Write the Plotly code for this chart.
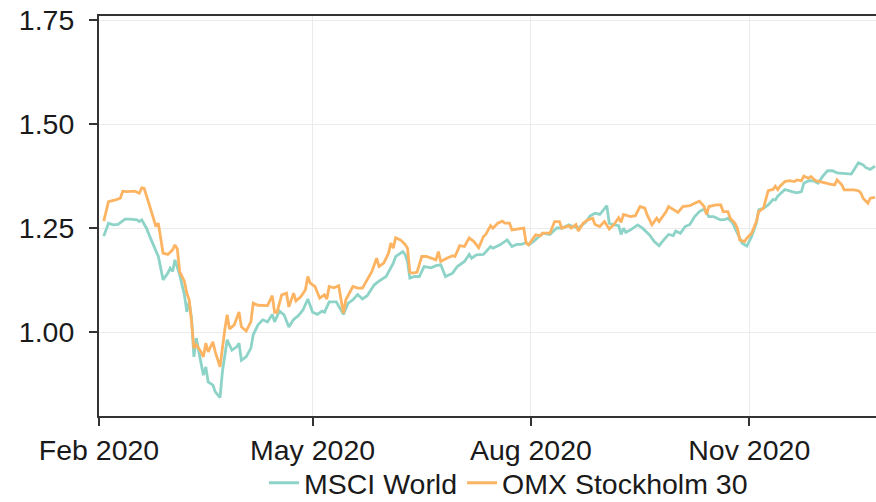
import plotly.graph_objects as go

# ---------------- data ----------------
msci_dates = [
    "2020-02-03", "2020-02-05", "2020-02-07", "2020-02-09", "2020-02-12", "2020-02-14", "2020-02-17", "2020-02-18",
    "2020-02-19", "2020-02-21", "2020-02-23", "2020-02-25", "2020-02-26", "2020-02-28", "2020-03-01", "2020-03-02",
    "2020-03-03", "2020-03-04", "2020-03-06", "2020-03-08", "2020-03-09", "2020-03-10", "2020-03-11", "2020-03-12",
    "2020-03-13", "2020-03-15", "2020-03-16", "2020-03-17", "2020-03-18", "2020-03-20", "2020-03-21", "2020-03-23",
    "2020-03-24", "2020-03-26", "2020-03-28", "2020-03-30", "2020-03-31", "2020-04-01", "2020-04-03", "2020-04-05",
    "2020-04-06", "2020-04-08", "2020-04-10", "2020-04-12", "2020-04-14", "2020-04-15", "2020-04-17", "2020-04-19",
    "2020-04-21", "2020-04-23", "2020-04-25", "2020-04-27", "2020-04-29", "2020-05-01", "2020-05-03", "2020-05-05",
    "2020-05-06", "2020-05-08", "2020-05-11", "2020-05-14", "2020-05-16", "2020-05-18", "2020-05-20", "2020-05-22",
    "2020-05-24", "2020-05-27", "2020-05-29", "2020-06-01", "2020-06-03", "2020-06-04", "2020-06-05", "2020-06-08",
    "2020-06-09", "2020-06-10", "2020-06-11", "2020-06-13", "2020-06-15", "2020-06-17", "2020-06-20", "2020-06-22",
    "2020-06-24", "2020-06-26", "2020-06-29", "2020-07-01", "2020-07-04", "2020-07-06", "2020-07-07", "2020-07-09",
    "2020-07-12", "2020-07-15", "2020-07-16", "2020-07-19", "2020-07-22", "2020-07-24", "2020-07-26", "2020-07-28",
    "2020-07-30", "2020-07-31", "2020-08-02", "2020-08-04", "2020-08-06", "2020-08-09", "2020-08-12", "2020-08-14",
    "2020-08-17", "2020-08-18", "2020-08-21", "2020-08-24", "2020-08-26", "2020-08-28", "2020-08-30", "2020-08-31",
    "2020-09-02", "2020-09-03", "2020-09-05", "2020-09-07", "2020-09-08", "2020-09-09", "2020-09-10", "2020-09-12",
    "2020-09-15", "2020-09-17", "2020-09-20", "2020-09-22", "2020-09-24", "2020-09-26", "2020-09-28", "2020-09-30",
    "2020-10-01", "2020-10-03", "2020-10-05", "2020-10-07", "2020-10-09", "2020-10-11", "2020-10-13", "2020-10-15",
    "2020-10-17", "2020-10-19", "2020-10-20", "2020-10-22", "2020-10-23", "2020-10-25", "2020-10-26", "2020-10-28",
    "2020-10-29", "2020-10-31", "2020-11-01", "2020-11-02", "2020-11-04", "2020-11-05", "2020-11-07", "2020-11-09",
    "2020-11-11", "2020-11-12", "2020-11-13", "2020-11-14", "2020-11-16", "2020-11-19", "2020-11-21", "2020-11-23",
    "2020-11-24", "2020-11-26", "2020-11-28", "2020-11-30", "2020-12-02", "2020-12-04", "2020-12-06", "2020-12-08",
    "2020-12-10", "2020-12-12", "2020-12-14", "2020-12-17", "2020-12-19", "2020-12-20", "2020-12-22", "2020-12-24",
]
msci_values = [
    1.231, 1.262, 1.258, 1.259, 1.272, 1.272, 1.270, 1.266,
    1.270, 1.250, 1.222, 1.198, 1.182, 1.126, 1.142, 1.154,
    1.146, 1.174, 1.138, 1.090, 1.049, 1.073, 1.034, 0.941,
    0.986, 0.926, 0.897, 0.917, 0.881, 0.873, 0.857, 0.843,
    0.905, 0.982, 0.957, 0.965, 0.974, 0.933, 0.941, 0.962,
    0.994, 1.018, 1.030, 1.025, 1.043, 1.025, 1.051, 1.042,
    1.013, 1.031, 1.040, 1.054, 1.080, 1.048, 1.043, 1.051,
    1.048, 1.073, 1.073, 1.043, 1.070, 1.078, 1.091, 1.080,
    1.088, 1.114, 1.123, 1.134, 1.154, 1.166, 1.182, 1.194,
    1.187, 1.170, 1.130, 1.134, 1.134, 1.158, 1.155, 1.160,
    1.162, 1.134, 1.142, 1.158, 1.170, 1.187, 1.178, 1.186,
    1.187, 1.206, 1.202, 1.210, 1.222, 1.206, 1.211, 1.211,
    1.216, 1.210, 1.218, 1.227, 1.238, 1.235, 1.251, 1.250,
    1.258, 1.256, 1.250, 1.264, 1.280, 1.286, 1.283, 1.290,
    1.304, 1.262, 1.258, 1.256, 1.235, 1.250, 1.240, 1.246,
    1.258, 1.250, 1.234, 1.218, 1.208, 1.222, 1.235, 1.232,
    1.243, 1.238, 1.254, 1.259, 1.278, 1.290, 1.296, 1.278,
    1.278, 1.272, 1.270, 1.271, 1.274, 1.263, 1.250, 1.226,
    1.214, 1.207, 1.218, 1.230, 1.262, 1.294, 1.298, 1.306,
    1.319, 1.318, 1.327, 1.332, 1.343, 1.338, 1.335, 1.338,
    1.358, 1.364, 1.364, 1.358, 1.375, 1.388, 1.388, 1.383,
    1.382, 1.380, 1.380, 1.407, 1.402, 1.396, 1.391, 1.399,
]

omx_dates = [
    "2020-02-03", "2020-02-05", "2020-02-08", "2020-02-10", "2020-02-11", "2020-02-13", "2020-02-16", "2020-02-18",
    "2020-02-19", "2020-02-20", "2020-02-22", "2020-02-24", "2020-02-25", "2020-02-26", "2020-02-28", "2020-03-01",
    "2020-03-03", "2020-03-04", "2020-03-05", "2020-03-06", "2020-03-08", "2020-03-09", "2020-03-10", "2020-03-11",
    "2020-03-12", "2020-03-13", "2020-03-15", "2020-03-16", "2020-03-17", "2020-03-18", "2020-03-20", "2020-03-21",
    "2020-03-23", "2020-03-25", "2020-03-26", "2020-03-27", "2020-03-29", "2020-03-31", "2020-04-01", "2020-04-03",
    "2020-04-05", "2020-04-06", "2020-04-08", "2020-04-12", "2020-04-14", "2020-04-15", "2020-04-16", "2020-04-18",
    "2020-04-20", "2020-04-21", "2020-04-23", "2020-04-24", "2020-04-26", "2020-04-28", "2020-04-29", "2020-04-30",
    "2020-05-02", "2020-05-04", "2020-05-06", "2020-05-07", "2020-05-08", "2020-05-10", "2020-05-12", "2020-05-14",
    "2020-05-15", "2020-05-18", "2020-05-20", "2020-05-22", "2020-05-24", "2020-05-26", "2020-05-28", "2020-05-29",
    "2020-05-31", "2020-06-02", "2020-06-03", "2020-06-04", "2020-06-05", "2020-06-07", "2020-06-09", "2020-06-10",
    "2020-06-11", "2020-06-12", "2020-06-14", "2020-06-16", "2020-06-18", "2020-06-22", "2020-06-23", "2020-06-24",
    "2020-06-27", "2020-06-29", "2020-06-30", "2020-07-02", "2020-07-04", "2020-07-06", "2020-07-08", "2020-07-10",
    "2020-07-12", "2020-07-13", "2020-07-15", "2020-07-16", "2020-07-18", "2020-07-20", "2020-07-21", "2020-07-23",
    "2020-07-24", "2020-07-27", "2020-07-29", "2020-07-30", "2020-07-31", "2020-08-02", "2020-08-03", "2020-08-05",
    "2020-08-06", "2020-08-09", "2020-08-11", "2020-08-13", "2020-08-14", "2020-08-17", "2020-08-18", "2020-08-20",
    "2020-08-21", "2020-08-23", "2020-08-25", "2020-08-27", "2020-08-28", "2020-08-30", "2020-09-01", "2020-09-03",
    "2020-09-05", "2020-09-07", "2020-09-08", "2020-09-09", "2020-09-12", "2020-09-14", "2020-09-16", "2020-09-18",
    "2020-09-19", "2020-09-21", "2020-09-23", "2020-09-24", "2020-09-27", "2020-09-28", "2020-09-30", "2020-10-02",
    "2020-10-04", "2020-10-07", "2020-10-09", "2020-10-11", "2020-10-13", "2020-10-14", "2020-10-15", "2020-10-18",
    "2020-10-20", "2020-10-21", "2020-10-23", "2020-10-24", "2020-10-26", "2020-10-27", "2020-10-28", "2020-10-30",
    "2020-10-31", "2020-11-02", "2020-11-04", "2020-11-05", "2020-11-07", "2020-11-08", "2020-11-09", "2020-11-11",
    "2020-11-12", "2020-11-13", "2020-11-14", "2020-11-16", "2020-11-18", "2020-11-20", "2020-11-21", "2020-11-23",
    "2020-11-24", "2020-11-26", "2020-11-27", "2020-11-29", "2020-12-01", "2020-12-03", "2020-12-05", "2020-12-07",
    "2020-12-08", "2020-12-10", "2020-12-11", "2020-12-13", "2020-12-15", "2020-12-17", "2020-12-18", "2020-12-19",
    "2020-12-21", "2020-12-22", "2020-12-24",
]
omx_values = [
    1.267, 1.314, 1.318, 1.322, 1.339, 1.338, 1.339, 1.334,
    1.347, 1.346, 1.310, 1.274, 1.254, 1.262, 1.190, 1.187,
    1.198, 1.210, 1.200, 1.146, 1.122, 1.094, 1.078, 1.025,
    0.962, 0.970, 0.953, 0.941, 0.974, 0.953, 0.977, 0.953,
    0.917, 1.006, 1.042, 1.008, 1.018, 1.049, 1.013, 1.003,
    1.025, 1.070, 1.065, 1.064, 1.088, 1.048, 1.048, 1.090,
    1.094, 1.061, 1.094, 1.075, 1.085, 1.102, 1.134, 1.118,
    1.110, 1.082, 1.090, 1.080, 1.110, 1.107, 1.112, 1.046,
    1.078, 1.110, 1.106, 1.106, 1.126, 1.146, 1.178, 1.158,
    1.166, 1.190, 1.214, 1.202, 1.227, 1.222, 1.211, 1.202,
    1.144, 1.142, 1.144, 1.182, 1.182, 1.174, 1.194, 1.170,
    1.179, 1.184, 1.182, 1.208, 1.206, 1.227, 1.218, 1.203,
    1.230, 1.235, 1.256, 1.250, 1.262, 1.267, 1.262, 1.262,
    1.246, 1.248, 1.250, 1.214, 1.210, 1.226, 1.234, 1.232,
    1.238, 1.238, 1.266, 1.266, 1.250, 1.256, 1.250, 1.259,
    1.243, 1.262, 1.270, 1.274, 1.259, 1.254, 1.266, 1.248,
    1.259, 1.275, 1.264, 1.283, 1.278, 1.280, 1.302, 1.298,
    1.282, 1.258, 1.274, 1.266, 1.290, 1.302, 1.296, 1.288,
    1.302, 1.304, 1.310, 1.315, 1.302, 1.283, 1.302, 1.306,
    1.306, 1.290, 1.290, 1.274, 1.262, 1.250, 1.222, 1.218,
    1.226, 1.238, 1.266, 1.290, 1.298, 1.318, 1.340, 1.343,
    1.351, 1.343, 1.351, 1.362, 1.364, 1.362, 1.366, 1.364,
    1.375, 1.370, 1.374, 1.364, 1.362, 1.359, 1.356, 1.354,
    1.366, 1.354, 1.342, 1.342, 1.342, 1.340, 1.335, 1.322,
    1.310, 1.322, 1.324,
]

series_names = ["MSCI World", "OMX Stockholm 30"]
series_colors = ["#8DD3C7", "#FDB462"]

x_tick_values = ["2020-02-01", "2020-05-01", "2020-08-01", "2020-11-01"]
x_tick_labels = ["Feb 2020", "May 2020", "Aug 2020", "Nov 2020"]
y_tick_values = [1.00, 1.25, 1.50, 1.75]
y_tick_labels = ["1.00", "1.25", "1.50", "1.75"]

# ---------------- figure ----------------
FONT = "Liberation Sans, Arial, sans-serif"
FSIZE = 28.5
TEXT_COLOR = "#1a1a1a"
AXIS_COLOR = "#333333"
GRID_COLOR = "#EBEBEB"

fig = go.Figure()
for name, color, xs, ys in [
    (series_names[0], series_colors[0], msci_dates, msci_values),
    (series_names[1], series_colors[1], omx_dates, omx_values),
]:
    fig.add_trace(go.Scatter(
        x=xs, y=ys, mode="lines", name=name,
        line=dict(color=color, width=2.8),
    ))

fig.update_layout(
    width=876, height=502,
    margin=dict(l=99, r=0, t=16, b=86, autoexpand=False),
    paper_bgcolor="white", plot_bgcolor="white",
    font=dict(family=FONT, size=FSIZE, color=TEXT_COLOR),
    showlegend=True,
    legend=dict(
        orientation="h", x=0.527, xanchor="center", y=-0.168, yanchor="middle",
        font=dict(family=FONT, size=FSIZE, color=TEXT_COLOR),
        bgcolor="rgba(0,0,0,0)", borderwidth=0,
        tracegroupgap=0, itemwidth=30,
    ),
)
fig.update_xaxes(
    type="date",
    range=["2020-02-01", "2020-12-24 10:00"],
    tickmode="array", tickvals=x_tick_values, ticktext=x_tick_labels,
    ticks="outside", ticklen=8, tickwidth=2, tickcolor=AXIS_COLOR,
    showline=True, linecolor=AXIS_COLOR, linewidth=2, mirror=True,
    showgrid=True, gridcolor=GRID_COLOR, gridwidth=1,
    zeroline=False,
    tickfont=dict(family=FONT, size=FSIZE, color=TEXT_COLOR),
)
fig.update_yaxes(
    range=[0.799, 1.7596],
    tickmode="array", tickvals=y_tick_values, ticktext=y_tick_labels,
    ticks="outside", ticklen=8, tickwidth=2, tickcolor=AXIS_COLOR,
    ticklabelstandoff=9,
    showline=True, linecolor=AXIS_COLOR, linewidth=2,
    showgrid=True, gridcolor=GRID_COLOR, gridwidth=1,
    zeroline=False,
    tickfont=dict(family=FONT, size=FSIZE, color=TEXT_COLOR),
)

fig.write_html(
    "out.html",
    config={"displayModeBar": False},
    post_script="document.body.style.margin='0';",
)
